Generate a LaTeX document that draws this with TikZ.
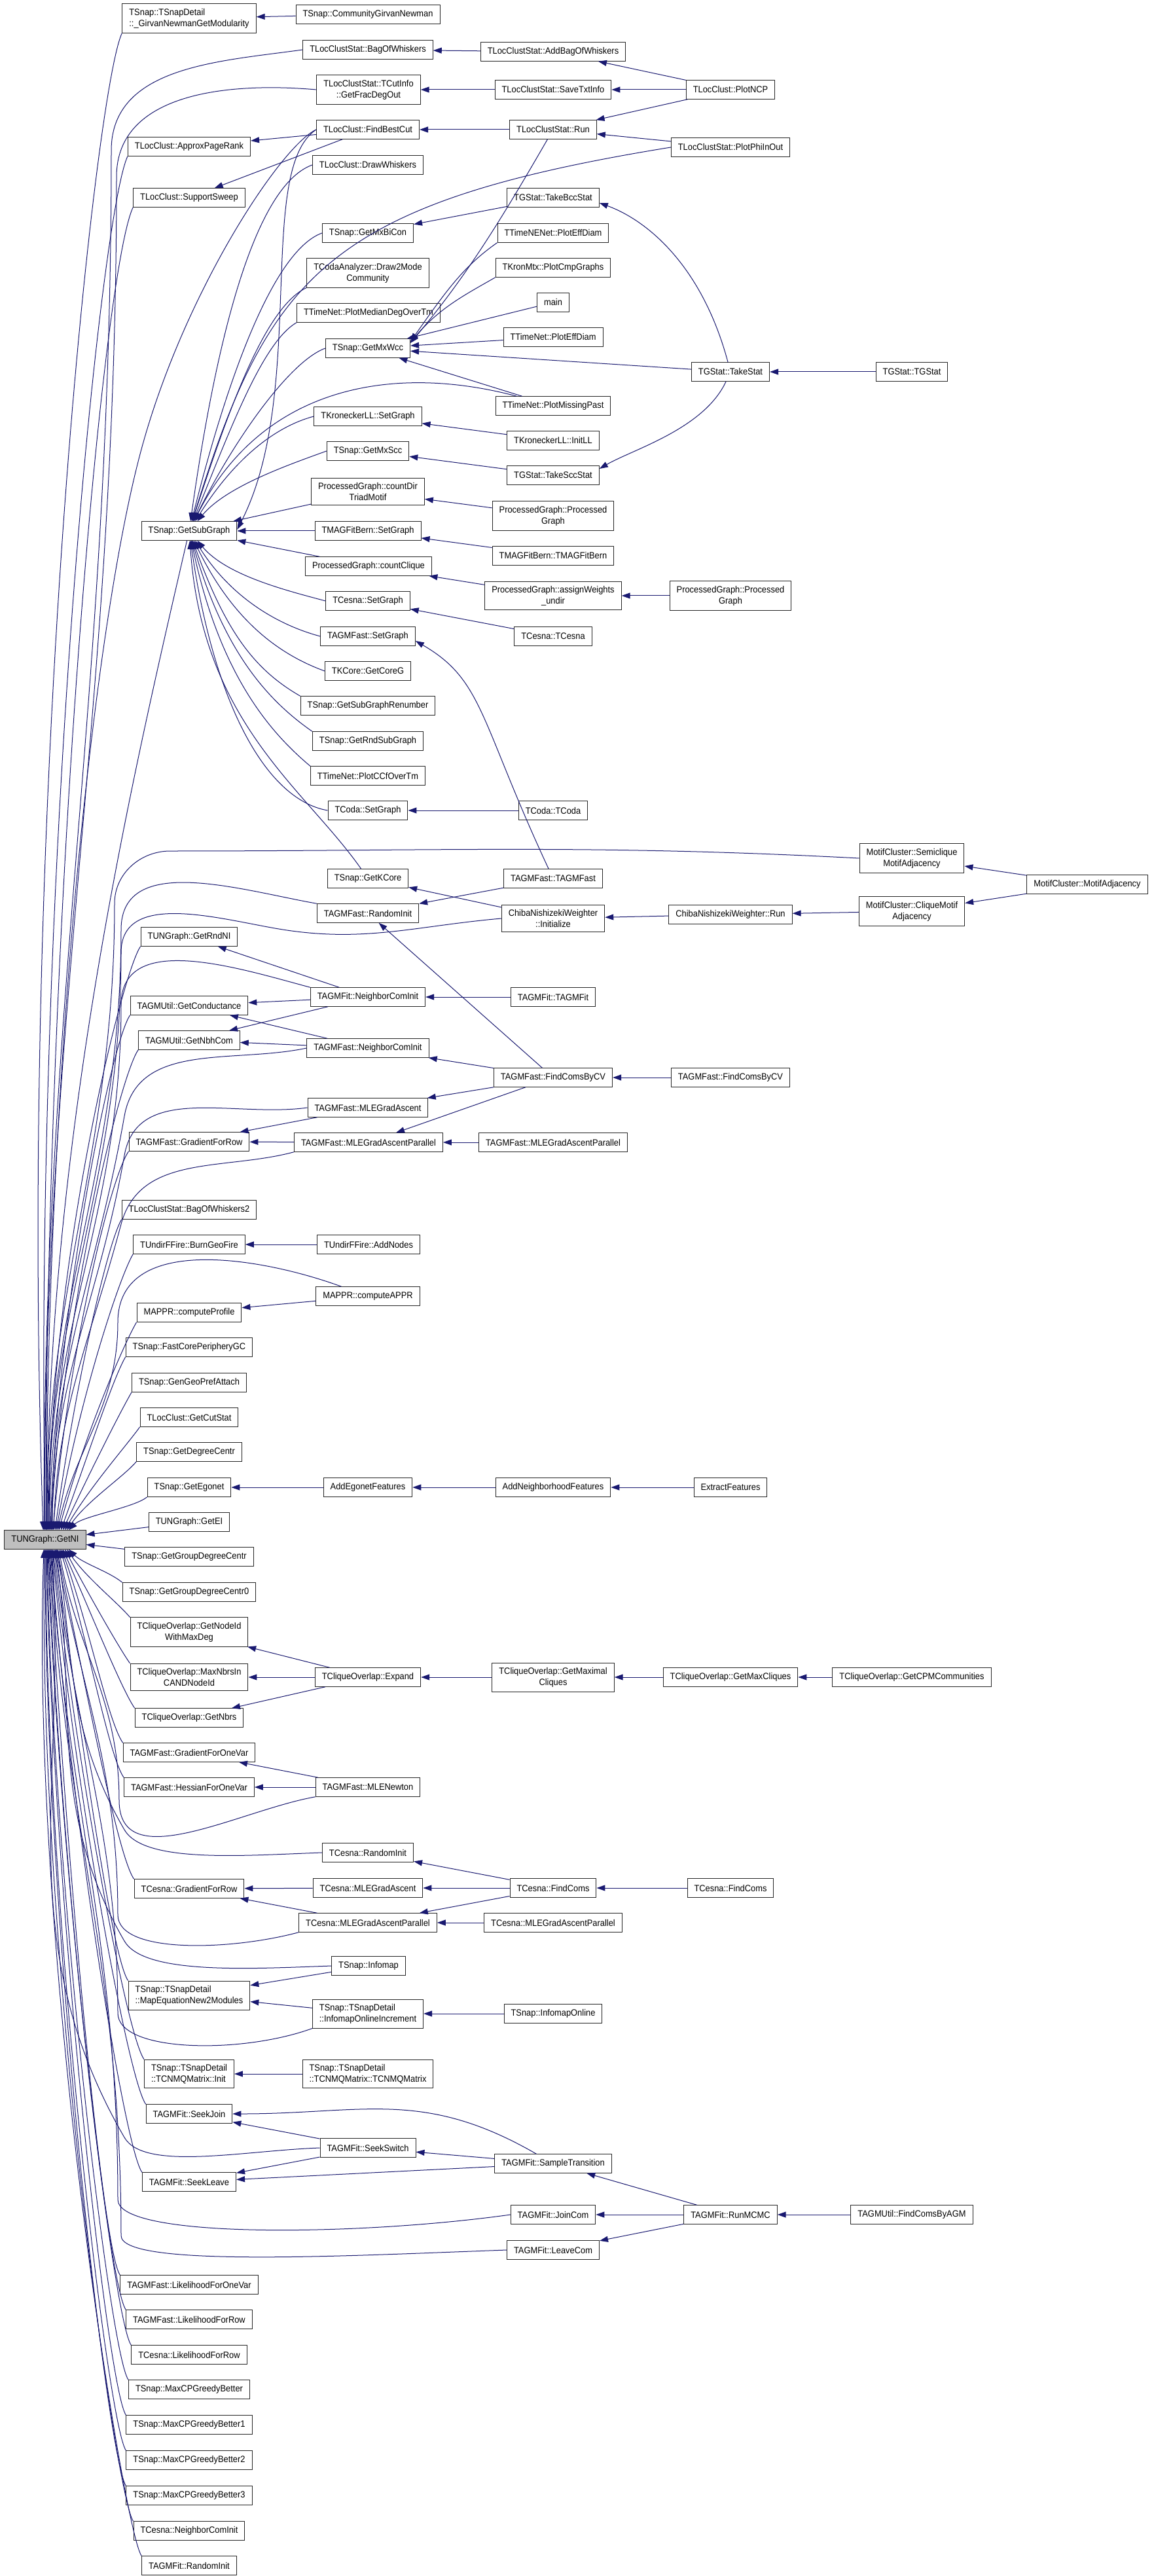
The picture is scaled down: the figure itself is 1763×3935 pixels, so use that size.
\documentclass[tikz,border=0pt]{standalone}
\usepackage{fontspec}
\setmainfont{Liberation Sans}[FakeStretch=0.92]
\usetikzlibrary{arrows.meta}
\definecolor{edgeblue}{RGB}{25,25,112}
\definecolor{curgray}{RGB}{191,191,191}

\begin{document}
\begin{tikzpicture}[x=0.25pt, y=0.25pt,
  fn/.style={draw=black!85, fill=white, line width=0.25pt, inner xsep=2.625pt, inner ysep=1.75pt,
    minimum height=7.125pt, align=center, font=\fontsize{3.5}{4.25}\selectfont},
  fnl/.style={fn, align=left},
  call/.style={draw=edgeblue, line width=0.25pt, -{Triangle[length=3.25pt,width=2.25pt]}}]
\fill[white] (0,0) rectangle (1763,-3935);
\useasboundingbox (0,0) rectangle (1763,-3935);

% the function itself
\node[fn, fill=curgray] (getni) at (69,-2352) {TUNGraph::GetNI};

% column 1
\node[fnl] (gnmod) at (289,-28) {TSnap::TSnapDetail\\::\_GirvanNewmanGetModularity};
\node[fn] (approxpr) at (289,-224) {TLocClust::ApproxPageRank};
\node[fn] (supsweep) at (289,-302) {TLocClust::SupportSweep};
\node[fn] (getsub) at (289,-811) {TSnap::GetSubGraph};
\node[fn] (rndni) at (289,-1431) {TUNGraph::GetRndNI};
\node[fn] (cond) at (289,-1536) {TAGMUtil::GetConductance};
\node[fn] (nbhcom) at (289,-1589) {TAGMUtil::GetNbhCom};
\node[fn] (gradrow) at (289,-1744) {TAGMFast::GradientForRow};
\node[fn] (bowtwo) at (289,-1848) {TLocClustStat::BagOfWhiskers2};
\node[fn] (burn) at (289,-1901) {TUndirFFire::BurnGeoFire};
\node[fn] (profile) at (289,-2005) {MAPPR::computeProfile};
\node[fn] (fastcore) at (289,-2058) {TSnap::FastCorePeripheryGC};
\node[fn] (genpref) at (289,-2112) {TSnap::GenGeoPrefAttach};
\node[fn] (cutstat) at (289,-2165) {TLocClust::GetCutStat};
\node[fn] (degcentr) at (289,-2218) {TSnap::GetDegreeCentr};
\node[fn] (egonet) at (289,-2272) {TSnap::GetEgonet};
\node[fn] (getei) at (289,-2325) {TUNGraph::GetEI};
\node[fn] (grpdeg) at (289,-2378) {TSnap::GetGroupDegreeCentr};
\node[fn] (grpdegz) at (289,-2432) {TSnap::GetGroupDegreeCentr0};
\node[fn] (nodeidmax) at (289,-2493) {TCliqueOverlap::GetNodeId\\WithMaxDeg};
\node[fn] (maxnbrs) at (289,-2562) {TCliqueOverlap::MaxNbrsIn\\CANDNodeId};
\node[fn] (getnbrs) at (289,-2624) {TCliqueOverlap::GetNbrs};
\node[fn] (gradvar) at (289,-2677) {TAGMFast::GradientForOneVar};
\node[fn] (hessvar) at (289,-2730) {TAGMFast::HessianForOneVar};
\node[fn] (cesnagrad) at (289,-2885) {TCesna::GradientForRow};
\node[fnl] (mapeq) at (289,-3048) {TSnap::TSnapDetail\\::MapEquationNew2Modules};
\node[fnl] (cnmqinit) at (289,-3168) {TSnap::TSnapDetail\\::TCNMQMatrix::Init};
\node[fn] (seekjoin) at (289,-3229) {TAGMFit::SeekJoin};
\node[fn] (seekleave) at (289,-3333) {TAGMFit::SeekLeave};
\node[fn] (likevar) at (289,-3490) {TAGMFast::LikelihoodForOneVar};
\node[fn] (likerow) at (289,-3543) {TAGMFast::LikelihoodForRow};
\node[fn] (cesnalike) at (289,-3597) {TCesna::LikelihoodForRow};
\node[fn] (greedy) at (289,-3650) {TSnap::MaxCPGreedyBetter};
\node[fn] (greedyone) at (289,-3704) {TSnap::MaxCPGreedyBetter1};
\node[fn] (greedytwo) at (289,-3758) {TSnap::MaxCPGreedyBetter2};
\node[fn] (greedythree) at (289,-3812) {TSnap::MaxCPGreedyBetter3};
\node[fn] (cesnanci) at (289,-3866) {TCesna::NeighborComInit};
\node[fn] (fitrinit) at (289,-3919) {TAGMFit::RandomInit};

% column 2
\node[fn] (cgn) at (562,-22) {TSnap::CommunityGirvanNewman};
\node[fn] (bow) at (562,-76) {TLocClustStat::BagOfWhiskers};
\node[fn] (fracdeg) at (563,-137) {TLocClustStat::TCutInfo\\::GetFracDegOut};
\node[fn] (fbc) at (562,-198) {TLocClust::FindBestCut};
\node[fn] (drawwh) at (562,-252) {TLocClust::DrawWhiskers};
\node[fn] (mxbicon) at (562,-356) {TSnap::GetMxBiCon};
\node[fn] (draw2mode) at (562,-417) {TCodaAnalyzer::Draw2Mode\\Community};
\node[fn] (mediandeg) at (563,-478) {TTimeNet::PlotMedianDegOverTm};
\node[fn] (mxwcc) at (562,-532) {TSnap::GetMxWcc};
\node[fn] (kllset) at (562,-636) {TKroneckerLL::SetGraph};
\node[fn] (mxscc) at (562,-689) {TSnap::GetMxScc};
\node[fn] (triad) at (562,-751) {ProcessedGraph::countDir\\TriadMotif};
\node[fn] (magset) at (562,-811) {TMAGFitBern::SetGraph};
\node[fn] (cclique) at (563,-865) {ProcessedGraph::countClique};
\node[fn] (cesnaset) at (562,-918) {TCesna::SetGraph};
\node[fn] (agmfset) at (562,-972) {TAGMFast::SetGraph};
\node[fn] (coreg) at (562,-1025) {TKCore::GetCoreG};
\node[fn] (subren) at (562,-1078) {TSnap::GetSubGraphRenumber};
\node[fn] (rndsub) at (562,-1132) {TSnap::GetRndSubGraph};
\node[fn] (ccf) at (562,-1185) {TTimeNet::PlotCCfOverTm};
\node[fn] (codaset) at (562,-1238) {TCoda::SetGraph};
\node[fn] (kcore) at (562,-1342) {TSnap::GetKCore};
\node[fn] (agmrinit) at (562,-1395) {TAGMFast::RandomInit};
\node[fn] (fitnci) at (562,-1523) {TAGMFit::NeighborComInit};
\node[fn] (fastnci) at (562,-1601) {TAGMFast::NeighborComInit};
\node[fn] (mlega) at (562,-1692) {TAGMFast::MLEGradAscent};
\node[fn] (mlegapar) at (563,-1745) {TAGMFast::MLEGradAscentParallel};
\node[fn] (addnodes) at (563,-1901) {TUndirFFire::AddNodes};
\node[fn] (appr) at (562,-1980) {MAPPR::computeAPPR};
\node[fn] (addego) at (562,-2272) {AddEgonetFeatures};
\node[fn] (expand) at (562,-2562) {TCliqueOverlap::Expand};
\node[fn] (newton) at (562,-2730) {TAGMFast::MLENewton};
\node[fn] (cesnarinit) at (562,-2830) {TCesna::RandomInit};
\node[fn] (cesnamlega) at (562,-2884) {TCesna::MLEGradAscent};
\node[fn] (cesnapar) at (562,-2937) {TCesna::MLEGradAscentParallel};
\node[fn] (infomap) at (563,-3003) {TSnap::Infomap};
\node[fnl] (infoinc) at (562,-3076) {TSnap::TSnapDetail\\::InfomapOnlineIncrement};
\node[fnl] (cnmq) at (562,-3168) {TSnap::TSnapDetail\\::TCNMQMatrix::TCNMQMatrix};
\node[fn] (seekswitch) at (562,-3281) {TAGMFit::SeekSwitch};

% column 3
\node[fn] (addbow) at (845,-79) {TLocClustStat::AddBagOfWhiskers};
\node[fn] (savetxt) at (845,-137) {TLocClustStat::SaveTxtInfo};
\node[fn] (lcsrun) at (845,-198) {TLocClustStat::Run};
\node[fn] (bccstat) at (845,-302) {TGStat::TakeBccStat};
\node[fn] (tneeff) at (845,-356) {TTimeNENet::PlotEffDiam};
\node[fn] (kron) at (845,-409) {TKronMtx::PlotCmpGraphs};
\node[fn] (main) at (845,-462) {main};
\node[fn] (tneff) at (845,-515) {TTimeNet::PlotEffDiam};
\node[fn] (missing) at (845,-620) {TTimeNet::PlotMissingPast};
\node[fn] (initll) at (845,-673) {TKroneckerLL::InitLL};
\node[fn] (sccstat) at (845,-726) {TGStat::TakeSccStat};
\node[fn] (pgraph) at (845,-788) {ProcessedGraph::Processed\\Graph};
\node[fn] (magfit) at (845,-849) {TMAGFitBern::TMAGFitBern};
\node[fn] (assignw) at (845,-910) {ProcessedGraph::assignWeights\\\_undir};
\node[fn] (tcesna) at (845,-972) {TCesna::TCesna};
\node[fn] (tcoda) at (845,-1238) {TCoda::TCoda};
\node[fn] (tagmfast) at (845,-1342) {TAGMFast::TAGMFast};
\node[fn] (cnwinit) at (845,-1403) {ChibaNishizekiWeighter\\::Initialize};
\node[fn] (tagmfit) at (845,-1523) {TAGMFit::TAGMFit};
\node[fn] (fcbycv) at (845,-1646) {TAGMFast::FindComsByCV};
\node[fn] (mlegaparb) at (845,-1745) {TAGMFast::MLEGradAscentParallel};
\node[fn] (addnbr) at (845,-2272) {AddNeighborhoodFeatures};
\node[fn] (maximal) at (845,-2562) {TCliqueOverlap::GetMaximal\\Cliques};
\node[fn] (cesnafind) at (845,-2884) {TCesna::FindComs};
\node[fn] (cesnaparb) at (845,-2937) {TCesna::MLEGradAscentParallel};
\node[fn] (infoonline) at (845,-3076) {TSnap::InfomapOnline};
\node[fn] (sampletr) at (845,-3305) {TAGMFit::SampleTransition};
\node[fn] (joincom) at (845,-3383) {TAGMFit::JoinCom};
\node[fn] (leavecom) at (845,-3437) {TAGMFit::LeaveCom};

% column 4
\node[fn] (plotncp) at (1116,-137) {TLocClust::PlotNCP};
\node[fn] (plotphi) at (1116,-225) {TLocClustStat::PlotPhiInOut};
\node[fn] (takestat) at (1116,-568) {TGStat::TakeStat};
\node[fn] (pgraphb) at (1116,-910) {ProcessedGraph::Processed\\Graph};
\node[fn] (cnwrun) at (1116,-1397) {ChibaNishizekiWeighter::Run};
\node[fn] (fcbycvb) at (1116,-1646) {TAGMFast::FindComsByCV};
\node[fn] (extract) at (1116,-2272) {ExtractFeatures};
\node[fn] (maxcliques) at (1116,-2562) {TCliqueOverlap::GetMaxCliques};
\node[fn] (cesnafindb) at (1116,-2884) {TCesna::FindComs};
\node[fn] (runmcmc) at (1116,-3383) {TAGMFit::RunMCMC};

% columns 5 and 6
\node[fn] (tgstat) at (1393,-568) {TGStat::TGStat};
\node[fn] (semiclq) at (1393,-1311) {MotifCluster::Semiclique\\MotifAdjacency};
\node[fn] (cliquemotif) at (1393,-1392) {MotifCluster::CliqueMotif\\Adjacency};
\node[fn] (cpm) at (1393,-2562) {TCliqueOverlap::GetCPMCommunities};
\node[fn] (findagm) at (1393,-3383) {TAGMUtil::FindComsByAGM};
\node[fn] (motifadj) at (1661,-1351) {MotifCluster::MotifAdjacency};

% straight calls
\draw[call] (cgn) -- (gnmod);
\draw[call] (addbow) -- (bow);
\draw[call] (plotncp) -- (addbow);
\draw[call] (plotncp) -- (savetxt);
\draw[call] (plotncp) -- (lcsrun);
\draw[call] (savetxt) -- (fracdeg);
\draw[call] (lcsrun) -- (fbc);
\draw[call] (plotphi) -- (lcsrun);
\draw[call] (fbc) -- (approxpr);
\draw[call] (fbc) -- (supsweep);
\draw[call] (bccstat) -- (mxbicon);
\draw[call] (main) -- (mxwcc);
\draw[call] (tneff) -- (mxwcc);
\draw[call] (takestat) -- (mxwcc);
\draw[call] (missing) -- (mxwcc);
\draw[call] (tgstat) -- (takestat);
\draw[call] (initll) -- (kllset);
\draw[call] (sccstat) -- (mxscc);
\draw[call] (pgraph) -- (triad);
\draw[call] (triad) -- (getsub);
\draw[call] (magfit) -- (magset);
\draw[call] (magset) -- (getsub);
\draw[call] (assignw) -- (cclique);
\draw[call] (pgraphb) -- (assignw);
\draw[call] (cclique) -- (getsub);
\draw[call] (tcesna) -- (cesnaset);
\draw[call] (tcoda) -- (codaset);
\draw[call] (cnwinit) -- (kcore);
\draw[call] (tagmfast) -- (agmrinit);
\draw[call] (fcbycv) -- (agmrinit);
\draw[call] (cnwrun) -- (cnwinit);
\draw[call] (cliquemotif) -- (cnwrun);
\draw[call] (motifadj) -- (cliquemotif);
\draw[call] (motifadj) -- (semiclq);
\draw[call] (fitnci) -- (rndni);
\draw[call] (fitnci) -- (cond);
\draw[call] (fitnci) -- (nbhcom);
\draw[call] (tagmfit) -- (fitnci);
\draw[call] (fastnci) -- (cond);
\draw[call] (fastnci) -- (nbhcom);
\draw[call] (fcbycv) -- (fastnci);
\draw[call] (fcbycv) -- (mlega);
\draw[call] (fcbycv) -- (mlegapar);
\draw[call] (fcbycvb) -- (fcbycv);
\draw[call] (mlega) -- (gradrow);
\draw[call] (mlegapar) -- (gradrow);
\draw[call] (mlegaparb) -- (mlegapar);
\draw[call] (addnodes) -- (burn);
\draw[call] (appr) -- (profile);
\draw[call] (addego) -- (egonet);
\draw[call] (addnbr) -- (addego);
\draw[call] (extract) -- (addnbr);
\draw[call] (getei) -- (getni);
\draw[call] (grpdeg) -- (getni);
\draw[call] (expand) -- (nodeidmax);
\draw[call] (expand) -- (maxnbrs);
\draw[call] (expand) -- (getnbrs);
\draw[call] (maximal) -- (expand);
\draw[call] (maxcliques) -- (maximal);
\draw[call] (cpm) -- (maxcliques);
\draw[call] (newton) -- (gradvar);
\draw[call] (newton) -- (hessvar);
\draw[call] (cesnafind) -- (cesnarinit);
\draw[call] (cesnafind) -- (cesnamlega);
\draw[call] (cesnafind) -- (cesnapar);
\draw[call] (cesnafindb) -- (cesnafind);
\draw[call] (cesnamlega) -- (cesnagrad);
\draw[call] (cesnapar) -- (cesnagrad);
\draw[call] (cesnaparb) -- (cesnapar);
\draw[call] (infomap) -- (mapeq);
\draw[call] (infoinc) -- (mapeq);
\draw[call] (infoonline) -- (infoinc);
\draw[call] (cnmq) -- (cnmqinit);
\draw[call] (sampletr) -- (seekswitch);
\draw[call] (sampletr) -- (seekleave);
\draw[call] (seekswitch) -- (seekjoin);
\draw[call] (seekswitch) -- (seekleave);
\draw[call] (runmcmc) -- (sampletr);
\draw[call] (runmcmc) -- (joincom);
\draw[call] (runmcmc) -- (leavecom);
\draw[call] (findagm) -- (runmcmc);

% curved calls on the right
\draw[call] (lcsrun) to[out=-120,in=50,out distance=37.5pt,in distance=32.5pt] ([yshift=2pt]mxwcc.east);
\draw[call] (tneeff.south west) to[out=215,in=55,out distance=15pt,in distance=25pt] ([yshift=2.5pt]mxwcc.east);
\draw[call] (kron.south west) to[out=210,in=50,out distance=12.5pt,in distance=17.5pt] ([yshift=2.25pt]mxwcc.east);
\draw[call] (takestat) to[out=105,in=-20,out distance=37.5pt,in distance=20pt] ([yshift=-2pt]bccstat.east);
\draw[call] (takestat) to[out=-115,in=30,out distance=20pt,in distance=15pt] ([yshift=2.5pt]sccstat.east);
\draw[call] (tagmfast) to[out=115,in=-30,out distance=62.5pt,in distance=30pt] ([yshift=-1.75pt]agmfset.east);
\draw[call] (sampletr) to[out=150,in=0,out distance=50pt,in distance=50pt] (seekjoin);

% calls into TSnap::GetSubGraph
\draw[call] (fbc.west) .. controls (390,-260) and (470,-600) .. ([yshift=0.5pt]getsub.east);
\draw[call] (plotphi.west) .. controls (500,-310) and (410,-420) .. (getsub);
\draw[call] (drawwh.west) to[out=200,in=82,out distance=25pt,in distance=62.5pt] (getsub);
\draw[call] (mxbicon.west) to[out=200,in=76,out distance=20pt,in distance=55pt] (getsub);
\draw[call] (draw2mode.south west) to[out=205,in=72,out distance=17.5pt,in distance=45pt] (getsub);
\draw[call] (mediandeg.south west) to[out=210,in=68,out distance=15pt,in distance=37.5pt] (getsub);
\draw[call] (mxwcc.west) to[out=200,in=64,out distance=15pt,in distance=32.5pt] (getsub);
\draw[call] (missing) .. controls (600,-555) and (400,-590) .. (getsub);
\draw[call] (kllset.west) to[out=195,in=58,out distance=17.5pt,in distance=25pt] (getsub);
\draw[call] (mxscc.west) to[out=200,in=50,out distance=15pt,in distance=17.5pt] (getsub);
\draw[call] (cesnaset.west) to[out=165,in=-50,out distance=15pt,in distance=17.5pt] (getsub);
\draw[call] (agmfset.west) to[out=165,in=-58,out distance=17.5pt,in distance=25pt] (getsub);
\draw[call] (coreg.west) to[out=160,in=-64,out distance=20pt,in distance=32.5pt] (getsub);
\draw[call] (subren.north west) to[out=150,in=-70,out distance=20pt,in distance=37.5pt] (getsub);
\draw[call] (rndsub.north west) to[out=145,in=-74,out distance=20pt,in distance=45pt] (getsub);
\draw[call] (ccf.north west) to[out=140,in=-78,out distance=20pt,in distance=52.5pt] (getsub);
\draw[call] (codaset.west) to[out=170,in=-82,out distance=25pt,in distance=60pt] (getsub);
\draw[call] (kcore) to[out=125,in=-86,out distance=37.5pt,in distance=70pt] (getsub);

% calls into TUNGraph::GetNI from above
\draw[call] (gnmod.south west) to[out=245,in=92,out distance=25pt,in distance=275pt] ([xshift=-0.75pt]getni.north);
\draw[call] (bow.west) to[out=188,in=90] (170,-230) to[out=-90,in=90] ([xshift=-0.5pt]getni.north);
\draw[call] (fracdeg.west) to[out=175,in=90] (178,-270) to[out=-90,in=90] ([xshift=-0.25pt]getni.north);
\draw[call] (approxpr.south west) to[out=245,in=91,out distance=25pt,in distance=250pt] (getni.north);
\draw[call] (fbc.west) to[out=205,in=75,out distance=15pt,in distance=62.5pt] (215,-690) to[out=-105,in=90,out distance=75pt] ([xshift=0.5pt]getni.north);
\draw[call] (supsweep.south west) to[out=245,in=90,out distance=27.5pt,in distance=237.5pt] ([xshift=0.25pt]getni.north);
\draw[call] (getsub) to[out=-103,in=90,out distance=87.5pt,in distance=150pt] ([xshift=0.75pt]getni.north);
\draw[call] (semiclq.west) to[out=177,in=0] (260,-1300) to[out=180,in=90] (175,-1380) to[out=-90,in=90] ([xshift=0.5pt]getni.north);
\draw[call] (agmrinit.north west) to[out=170,in=90] (185,-1420) to[out=-90,in=90] ([xshift=1pt]getni.north);
\draw[call] (cnwinit.west) to[out=185,in=-10] (420,-1418) to[out=170,in=90] (185,-1455) to[out=-90,in=90] ([xshift=1.25pt]getni.north);
\draw[call] (rndni.south west) to[out=235,in=90,out distance=12.5pt,in distance=100pt] ([xshift=1.5pt]getni.north);
\draw[call] (fitnci.north west) to[out=165,in=90] (185,-1535) to[out=-90,in=90] ([xshift=1.75pt]getni.north);
\draw[call] (cond.south west) to[out=235,in=88,out distance=12.5pt,in distance=87.5pt] ([xshift=2pt]getni.north);
\draw[call] (nbhcom.south west) to[out=235,in=87,out distance=12.5pt,in distance=82.5pt] ([xshift=2.25pt]getni.north);
\draw[call] (fastnci.west) to[out=192,in=80] (190,-1705) to[out=-100,in=90] ([xshift=2.5pt]getni.north);
\draw[call] (mlega.west) to[out=188,in=80] (190,-1765) to[out=-100,in=90] ([xshift=2.75pt]getni.north);
\draw[call] (gradrow.south west) to[out=235,in=85,out distance=12.5pt,in distance=67.5pt] ([xshift=3pt]getni.north);
\draw[call] (mlegapar.south west) to[out=195,in=75] (185,-1870) to[out=-105,in=88] ([xshift=3.25pt]getni.north);
\draw[call] (bowtwo.south west) to[out=240,in=82,out distance=11.25pt,in distance=55pt] ([xshift=3.75pt]getni.north);
\draw[call] (burn.south west) to[out=240,in=80,out distance=11.25pt,in distance=50pt] ([xshift=4.25pt]getni.north);
\draw[call] (appr) to[out=160,in=90] (180,-2020) to[out=-90,in=78] ([xshift=4.75pt]getni.north);
\draw[call] (profile.south west) to[out=240,in=75,out distance=10pt,in distance=37.5pt] ([xshift=5.25pt]getni.north);
\draw[call] (fastcore.south west) to[out=240,in=70,out distance=10pt,in distance=30pt] ([xshift=6pt]getni.north);
\draw[call] (genpref.south west) to[out=240,in=65,out distance=8.75pt,in distance=25pt] ([xshift=6.75pt]getni.north);
\draw[call] (cutstat.south west) to[out=235,in=60,out distance=7.5pt,in distance=18.75pt] ([xshift=7.5pt]getni.north);
\draw[call] (degcentr.south west) to[out=230,in=55,out distance=7.5pt,in distance=13.75pt] ([xshift=8.25pt]getni.north);
\draw[call] (egonet.south west) to[out=220,in=45,out distance=6.25pt,in distance=7.5pt] ([xshift=9pt]getni.north);

% calls into TUNGraph::GetNI from below
\draw[call] (grpdegz.north west) to[out=140,in=-45,out distance=6.25pt,in distance=7.5pt] ([xshift=9pt]getni.south);
\draw[call] (nodeidmax.north west) to[out=130,in=-55,out distance=7.5pt,in distance=13.75pt] ([xshift=8.25pt]getni.south);
\draw[call] (maxnbrs.north west) to[out=125,in=-62,out distance=7.5pt,in distance=20pt] ([xshift=7.5pt]getni.south);
\draw[call] (getnbrs.north west) to[out=125,in=-66,out distance=8.75pt,in distance=25pt] ([xshift=6.75pt]getni.south);
\draw[call] (gradvar.north west) to[out=125,in=-70,out distance=10pt,in distance=30pt] ([xshift=6.25pt]getni.south);
\draw[call] (hessvar.north west) to[out=125,in=-73,out distance=10pt,in distance=35pt] ([xshift=5.75pt]getni.south);
\draw[call] (newton.south west) to[out=190,in=-90] (182,-2750) to[out=90,in=-80] ([xshift=5.25pt]getni.south);
\draw[call] (cesnarinit.west) to[out=182,in=-60,in distance=15pt] (190,-2795) to[out=120,in=-82] ([xshift=4.75pt]getni.south);
\draw[call] (cesnagrad.north west) to[out=125,in=-78,out distance=11.25pt,in distance=50pt] ([xshift=4.5pt]getni.south);
\draw[call] (cesnapar.south west) to[out=195,in=-90,in distance=15pt] (180,-2925) to[out=90,in=-80] ([xshift=4.25pt]getni.south);
\draw[call] (infomap.west) to[out=182,in=-60,in distance=15pt] (190,-2965) to[out=120,in=-82] ([xshift=4pt]getni.south);
\draw[call] (mapeq.north west) to[out=125,in=-82,out distance=11.25pt,in distance=65pt] ([xshift=3.75pt]getni.south);
\draw[call] (infoinc.south west) to[out=200,in=-90,in distance=15pt] (180,-3075) to[out=90,in=-84] ([xshift=3.5pt]getni.south);
\draw[call] (cnmqinit.north west) to[out=125,in=-84,out distance=12.5pt,in distance=75pt] ([xshift=3pt]getni.south);
\draw[call] (seekjoin.north west) to[out=125,in=-85,out distance=12.5pt,in distance=82.5pt] ([xshift=2.75pt]getni.south);
\draw[call] (seekswitch.west) to[out=182,in=-60,in distance=15pt] (190,-3265) to[out=120,in=-86] ([xshift=2.5pt]getni.south);
\draw[call] (seekleave.north west) to[out=125,in=-86,out distance=12.5pt,in distance=92.5pt] ([xshift=2.25pt]getni.south);
\draw[call] (joincom.west) to[out=188,in=-90,in distance=15pt] (180,-3360) to[out=90,in=-86] ([xshift=2pt]getni.south);
\draw[call] (leavecom.west) to[out=182,in=-90,in distance=12.5pt] (185,-3415) to[out=90,in=-87] ([xshift=1.75pt]getni.south);
\draw[call] (likevar.north west) to[out=125,in=-87,out distance=12.5pt,in distance=107.5pt] ([xshift=1.5pt]getni.south);
\draw[call] (likerow.north west) to[out=125,in=-88,out distance=12.5pt,in distance=112.5pt] ([xshift=1.25pt]getni.south);
\draw[call] (cesnalike.north west) to[out=125,in=-88,out distance=12.5pt,in distance=117.5pt] ([xshift=1pt]getni.south);
\draw[call] (greedy.north west) to[out=125,in=-89,out distance=12.5pt,in distance=125pt] ([xshift=0.75pt]getni.south);
\draw[call] (greedyone.north west) to[out=125,in=-89,out distance=12.5pt,in distance=130pt] ([xshift=0.5pt]getni.south);
\draw[call] (greedytwo.north west) to[out=125,in=-90,out distance=12.5pt,in distance=135pt] ([xshift=0.25pt]getni.south);
\draw[call] (greedythree.north west) to[out=125,in=-90,out distance=12.5pt,in distance=140pt] (getni.south);
\draw[call] (cesnanci.north west) to[out=125,in=-91,out distance=12.5pt,in distance=145pt] ([xshift=-0.25pt]getni.south);
\draw[call] (fitrinit.north west) to[out=125,in=-92,out distance=12.5pt,in distance=150pt] ([xshift=-0.5pt]getni.south);
\end{tikzpicture}
\end{document}
